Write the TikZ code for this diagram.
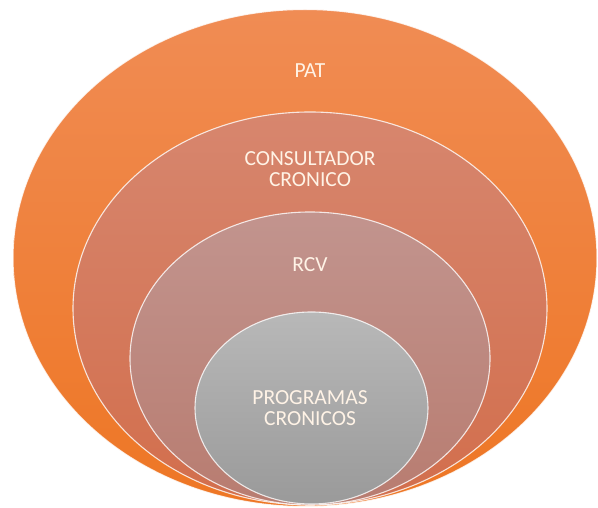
\documentclass[tikz,border=0pt]{standalone}
\usepackage{fontspec}
\setmainfont{Carlito}
\usepackage{xcolor}
\usepackage{tikz}
\usetikzlibrary{shapes.geometric, positioning}

\definecolor{patTop}{RGB}{240,140,84}
\definecolor{patBot}{RGB}{238,118,36}
\definecolor{consTop}{RGB}{215,134,110}
\definecolor{consBot}{RGB}{210,110,76}
\definecolor{rcvTop}{RGB}{194,148,142}
\definecolor{rcvBot}{RGB}{184,124,112}
\definecolor{progTop}{RGB}{184,184,184}
\definecolor{progBot}{RGB}{154,154,154}
\definecolor{labelText}{RGB}{255,243,230}

\tikzset{
    ring/.style={
        ellipse,
        draw=white,
        draw opacity=0.8,
        line width=1.1pt,
        inner sep=0pt,
        outer sep=0pt
    },
    ringlabel/.style={
        align=center,
        text=labelText,
        font=\fontsize{21.5}{20.5}\selectfont,
        inner sep=1pt
    }
}

\begin{document}
\begin{tikzpicture}[x=1pt, y=1pt]

\useasboundingbox (0,0) rectangle (598,508);

% Nested rings, outer first
\node[ring, top color=patTop, bottom color=patBot, minimum width=584pt, minimum height=497pt] (pat) at (305,250) {};
\node[ring, top color=consTop, bottom color=consBot, minimum width=474pt, minimum height=393pt] (cons) at (310,199.5) {};
\node[ring, top color=rcvTop, bottom color=rcvBot, minimum width=360pt, minimum height=293pt] (rcv) at (310,149.5) {};
\node[ring, top color=progTop, bottom color=progBot, minimum width=233pt, minimum height=192pt] (prog) at (311.5,100) {};

% Labels
\node[ringlabel] (patlabel) at (310,437) {PAT};
\node[ringlabel] (conslabel) at (310,339) {CONSULTADOR\\CRONICO};
\node[ringlabel] (rcvlabel) at (310,243) {RCV};
\node[ringlabel] (proglabel) at (310,100) {PROGRAMAS\\CRONICOS};

\end{tikzpicture}
\end{document}
